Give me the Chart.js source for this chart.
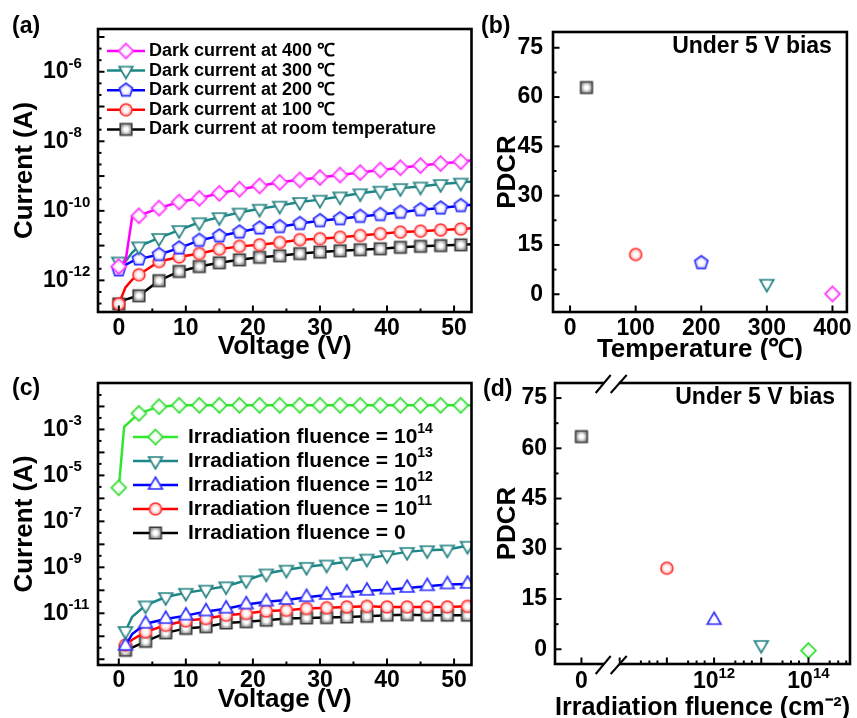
<!DOCTYPE html>
<html>
<head>
<meta charset="utf-8">
<script src="https://cdn.jsdelivr.net/npm/chart.js@4.4.0/dist/chart.umd.min.js"></script>
<style>
  body { margin: 0; background: #fff; }
  #fig { position: relative; width: 857px; height: 718px; font-family: "Liberation Sans", Arial, sans-serif; font-weight: bold; }
  .panel { position: absolute; }
  .tag { position: absolute; font-size: 23px; line-height: 23px; }
</style>
</head>
<body>
<div id="fig">
  <div class="panel" style="left:0;top:0"><canvas id="chartA" width="480" height="360"></canvas></div>
  <div class="panel" style="left:480px;top:0"><canvas id="chartB" width="377" height="360"></canvas></div>
  <div class="panel" style="left:0;top:360px"><canvas id="chartC" width="480" height="358"></canvas></div>
  <div class="panel" style="left:480px;top:360px"><canvas id="chartD" width="377" height="358"></canvas></div>
  <div class="tag" style="left:12px;top:14px">(a)</div>
  <div class="tag" style="left:481px;top:14px">(b)</div>
  <div class="tag" style="left:12px;top:376px">(c)</div>
  <div class="tag" style="left:483px;top:377px">(d)</div>
</div>
<script>
// (a) dark current vs voltage at several temperatures
const voltageA = [0, 1, 2, 3, 6, 9, 12, 15, 18, 21, 24, 27, 30, 33, 36, 39, 42, 45, 48, 51, 53]
const markerVoltsA = [0, 3, 6, 9, 12, 15, 18, 21, 24, 27, 30, 33, 36, 39, 42, 45, 48, 51]
const dark400 = [2.5e-12, 3.5e-12, 6.8e-11, 7.2e-11, 1.2e-10, 1.8e-10, 2.3e-10, 3.2e-10, 4.2e-10, 5.2e-10, 6.6e-10, 7.8e-10, 9.1e-10, 1.07e-9, 1.26e-9, 1.5e-9, 1.74e-9, 2.0e-9, 2.3e-9, 2.6e-9, 2.9e-9]
const dark300 = [3.5e-12, 3.5e-12, 6.3e-12, 9.5e-12, 1.66e-11, 2.8e-11, 4.7e-11, 6.6e-11, 8.9e-11, 1.15e-10, 1.41e-10, 1.8e-10, 2.1e-10, 2.6e-10, 3.2e-10, 3.8e-10, 4.5e-10, 5.0e-10, 5.9e-10, 6.5e-10, 7.1e-10]
const dark200 = [2.0e-12, 2.8e-12, 3.5e-12, 4.1e-12, 5.5e-12, 8.5e-12, 1.41e-11, 1.9e-11, 2.45e-11, 3.2e-11, 3.5e-11, 4.3e-11, 5.2e-11, 5.9e-11, 6.9e-11, 7.8e-11, 9.1e-11, 1.07e-10, 1.2e-10, 1.41e-10, 1.5e-10]
const dark100 = [2.1e-13, 6.3e-13, 1.05e-12, 1.45e-12, 3.5e-12, 4.7e-12, 5.9e-12, 7.9e-12, 9.5e-12, 1.05e-11, 1.23e-11, 1.48e-11, 1.58e-11, 1.74e-11, 1.95e-11, 2.2e-11, 2.45e-11, 2.6e-11, 2.8e-11, 3.0e-11, 3.2e-11]
const darkRT = [2.1e-13, 2.8e-13, 3.2e-13, 3.6e-13, 9.8e-13, 1.8e-12, 2.5e-12, 3.2e-12, 3.9e-12, 4.6e-12, 5.1e-12, 5.9e-12, 6.5e-12, 7.1e-12, 7.6e-12, 8.1e-12, 8.9e-12, 9.5e-12, 1.0e-11, 1.05e-11, 1.1e-11]

// (b) PDCR vs temperature
const temperatures = [25, 100, 200, 300, 400]
const pdcrTemp = [62.9, 12.1, 9.6, 3.2, 0.1]

// (c) current vs voltage after irradiation
const voltageC14 = [0, 0.8, 3, 6, 9, 12, 15, 18, 21, 24, 27, 30, 33, 36, 39, 42, 45, 48, 51, 53]
const markerVoltsC14 = [0, 3, 6, 9, 12, 15, 18, 21, 24, 27, 30, 33, 36, 39, 42, 45, 48, 51]
const irr14 = [2.9e-6, 1.3e-3, 5.0e-3, 9.8e-3, 1.12e-2, 1.12e-2, 1.12e-2, 1.12e-2, 1.12e-2, 1.12e-2, 1.12e-2, 1.12e-2, 1.12e-2, 1.12e-2, 1.12e-2, 1.12e-2, 1.12e-2, 1.12e-2, 1.12e-2, 1.12e-2]
const voltageC = [1, 2, 4, 7, 10, 13, 16, 19, 22, 25, 28, 31, 34, 37, 40, 43, 46, 49, 52]
const markerVoltsC = [1, 4, 7, 10, 13, 16, 19, 22, 25, 28, 31, 34, 37, 40, 43, 46, 49, 52]
const irr13 = [1.7e-12, 7.1e-12, 2.2e-11, 5.1e-11, 7.8e-11, 1.07e-10, 1.5e-10, 2.75e-10, 5.4e-10, 7.9e-10, 1.05e-9, 1.32e-9, 1.74e-9, 2.4e-9, 3.4e-9, 4.7e-9, 5.6e-9, 6.0e-9, 8.7e-9]
const irr12 = [3.8e-13, 1.26e-12, 3.5e-12, 5.6e-12, 7.9e-12, 1.2e-11, 1.58e-11, 2.4e-11, 3.2e-11, 3.8e-11, 5.0e-11, 6.3e-11, 7.9e-11, 9.5e-11, 1.07e-10, 1.26e-10, 1.5e-10, 1.8e-10, 1.9e-10]
const irr11 = [4.1e-13, 7.1e-13, 1.55e-12, 3.0e-12, 4.7e-12, 5.9e-12, 8.3e-12, 9.8e-12, 1.26e-11, 1.35e-11, 1.62e-11, 1.74e-11, 1.9e-11, 2.0e-11, 1.9e-11, 1.9e-11, 1.9e-11, 1.9e-11, 2.0e-11]
const irr0 = [2.45e-13, 3.2e-13, 6.0e-13, 1.41e-12, 2.2e-12, 2.6e-12, 3.8e-12, 4.3e-12, 5.0e-12, 5.9e-12, 6.3e-12, 6.5e-12, 6.9e-12, 7.4e-12, 8.3e-12, 8.7e-12, 8.3e-12, 8.3e-12, 8.3e-12]

// (d) PDCR vs irradiation fluence (broken axis: 0, then log decades)
const fluences = [0, 1e11, 1e12, 1e13, 1e14]
const pdcrFluence = [63.5, 24.2, 8.7, 1.3, -0.4]

const voltTicks = [0, 10, 20, 30, 40, 50]
const tempTicks = [0, 100, 200, 300, 400]
const pdcrTicks = [0, 15, 30, 45, 60, 75]
const ZERO_POS = 9.19
const BREAK_POS = 9.81

const FONT = '"Liberation Sans", Arial, sans-serif'
Chart.defaults.font.family = FONT
Chart.defaults.font.weight = 'bold'
Chart.defaults.color = '#000'
Chart.defaults.animation = false

const SUP = '⁰¹²³⁴⁵⁶⁷⁸⁹⁻'
const NORM = '0123456789-'
const sup = (s) => String(s).split('').map(c => SUP[NORM.indexOf(c)]).join('')
const decade = (v) => Math.round(Math.log10(v))

// split text into normal / superscript runs
const richRuns = (text) => {
    const runs = []
    for (const ch of text) {
        const i = SUP.indexOf(ch)
        const isSup = i >= 0
        const c = isSup ? NORM[i] : ch
        if (runs.length && runs[runs.length - 1].sup === isSup) runs[runs.length - 1].t += c
        else runs.push({ t: c, sup: isSup })
    }
    return runs
}

const runFont = (r, size) => "bold " + (r.sup ? Math.round(size * 0.66) : size) + "px " + FONT

const measureRich = (ctx, text, size) => {
    let w = 0
    richRuns(text).forEach(r => { ctx.font = runFont(r, size); w += ctx.measureText(r.t).width })
    return w
}

const drawRich = (ctx, text, x, y, size, align) => {
    if (align === "center") x -= measureRich(ctx, text, size) / 2
    ctx.textAlign = "left"
    ctx.textBaseline = "middle"
    richRuns(text).forEach(r => {
        ctx.font = runFont(r, size)
        ctx.fillText(r.t, x, r.sup ? y - size * 0.36 : y)
        x += ctx.measureText(r.t).width
    })
}

const marker = (shape, stroke, edge, R) => {
    const c = document.createElement("canvas")
    c.width = c.height = Math.ceil(2 * R + 4)
    const g = c.getContext("2d")
    const m = c.width / 2
    g.beginPath()
    if (shape === "diamond") {
        g.moveTo(m, m - R); g.lineTo(m + R, m); g.lineTo(m, m + R); g.lineTo(m - R, m)
    } else if (shape === "square") {
        g.rect(m - R, m - R, 2 * R, 2 * R)
    } else if (shape === "circle") {
        g.arc(m, m, R, 0, Math.PI * 2)
    } else {
        const n = shape === "pentagon" ? 5 : 3
        const start = shape === "triDown" ? Math.PI / 2 : -Math.PI / 2
        for (let k = 0; k < n; k++) {
            const a = start + k * 2 * Math.PI / n
            if (k === 0) g.moveTo(m + R * Math.cos(a), m + R * Math.sin(a))
            else g.lineTo(m + R * Math.cos(a), m + R * Math.sin(a))
        }
    }
    g.closePath()
    const grad = g.createRadialGradient(m, m, 0, m, m, R)
    grad.addColorStop(0, "#ffffff")
    grad.addColorStop(0.35, "#ffffff")
    grad.addColorStop(1, edge)
    g.fillStyle = grad
    g.fill()
    g.strokeStyle = stroke
    g.lineWidth = 1.6
    g.stroke()
    return c
}

const mk = {
    magenta: marker("diamond", "#ff33ff", "#ffa8ff", 7.5),
    teal: marker("triDown", "#2a8585", "#8ab8b8", 8),
    bluePent: marker("pentagon", "#3333ff", "#a0a0ff", 7),
    blueTri: marker("triUp", "#3333ff", "#a8a8ff", 8),
    red: marker("circle", "#ff3333", "#ffa0a0", 6),
    gray: marker("square", "#3c3c3c", "#8c8c8c", 5.8),
    green: marker("diamond", "#33dd33", "#b0f5b0", 7.5)
}

// frame with inward ticks, axis break, corner note, and superscript tick labels
const frameTicks = {
    id: "frameTicks",
    afterDraw(chart, args, o) {
        const { ctx, chartArea: a } = chart
        const xs = chart.scales.x
        const ys = chart.scales.y
        ctx.save()
        ctx.strokeStyle = "#000"
        const seg = (x1, y1, x2, y2) => { ctx.beginPath(); ctx.moveTo(x1, y1); ctx.lineTo(x2, y2); ctx.stroke() }
        const xTick = (v, len) => {
            const p = xs.getPixelForValue(v)
            if (p > a.left + 2 && p < a.right - 2) seg(p, a.bottom, p, a.bottom - len)
        }
        const yTick = (v, len) => {
            const p = ys.getPixelForValue(v)
            if (p > a.top + 2 && p < a.bottom - 2) seg(a.left, p, a.left + len, p)
        }
        ctx.lineWidth = 2
        xs.ticks.forEach(t => xTick(t.value, 6.5))
        ;(o.xMinor || []).forEach(v => xTick(v, 3.5))
        ys.ticks.forEach(t => yTick(t.value, 6.5))
        ;(o.yMinor || []).forEach(v => yTick(v, 3.5))
        ctx.lineWidth = 2.6
        ctx.strokeRect(a.left, a.top, a.right - a.left, a.bottom - a.top)
        if (o.breakAt !== undefined) {
            const bx = xs.getPixelForValue(o.breakAt)
            ;[a.top, a.bottom].forEach(by => {
                ctx.fillStyle = "#fff"
                ctx.fillRect(bx - 7, by - 3, 15, 6)
                ctx.lineWidth = 2
                seg(bx - 15, by + 10, bx, by - 8)
                seg(bx, by + 10, bx + 16, by - 8)
            })
        }
        ctx.fillStyle = "#000"
        if (o.yLabel) {
            ys.ticks.forEach(t => {
                const s = o.yLabel(t.value)
                if (s) drawRich(ctx, s, o.yLabelX, ys.getPixelForValue(t.value), o.labelSize, "left")
            })
        }
        if (o.xLabel) {
            xs.ticks.forEach(t => {
                const s = o.xLabel(t.value)
                if (s) drawRich(ctx, s, xs.getPixelForValue(t.value), a.bottom + o.xLabelDy, o.labelSize, "center")
            })
        }
        if (o.note) {
            ctx.font = "bold 23px " + FONT
            ctx.textAlign = "right"
            ctx.textBaseline = "middle"
            ctx.fillText(o.note, a.right - 15, a.top + 15)
        }
        ctx.restore()
    }
}

const lineLegend = {
    id: "lineLegend",
    afterDatasetsDraw(chart, args, o) {
        if (o.x === undefined) return
        const ctx = chart.ctx
        ctx.save()
        chart.data.datasets.forEach((ds, i) => {
            const y = o.y + i * o.gap
            ctx.strokeStyle = ds.borderColor
            ctx.lineWidth = 2.5
            ctx.beginPath(); ctx.moveTo(o.x, y); ctx.lineTo(o.x + o.len, y); ctx.stroke()
            const img = ds.pointStyle
            ctx.drawImage(img, o.x + o.len / 2 - img.width / 2, y - img.height / 2)
            ctx.fillStyle = "#000"
            drawRich(ctx, ds.label, o.x + o.len + o.pad, y, o.size, "left")
        })
        ctx.restore()
    }
}

Chart.register(frameTicks, lineLegend)

const series = (label, xs, ys, markerXs, color, img) => ({
    label: label,
    data: xs.map((x, i) => ({ x: x, y: ys[i] })),
    borderColor: color,
    borderWidth: 2.5,
    pointStyle: img,
    pointRadius: (ctx) => (ctx.raw && markerXs.includes(ctx.raw.x) ? 6 : 0),
    tension: 0,
    fill: false
})

const decadeMinor = (lo, hi, fracs) => {
    const out = []
    for (let n = lo; n <= hi; n++) fracs.forEach(f => out.push(Math.pow(10, n + f)))
    return out
}

const basePlugins = (extra) => Object.assign({ legend: { display: false }, tooltip: { enabled: false } }, extra)

const voltageAxis = (h, tickPad, titleBottom) => ({
    type: "linear", min: -3.1, max: 52.6,
    afterBuildTicks: (s) => { s.ticks = voltTicks.map(v => ({ value: v })) },
    afterFit: (s) => { s.height = h },
    grid: { display: false, drawTicks: false }, border: { display: false },
    ticks: { font: { size: 23, lineHeight: 1 }, padding: tickPad, maxRotation: 0, autoSkip: false },
    title: { display: true, text: "Voltage (V)", font: { size: 26, lineHeight: 1 }, padding: { top: 0, bottom: titleBottom } }
})

// log current axis; its labels (10 with superscript) are drawn by frameTicks
const currentAxis = (minExp, maxExp, ticks) => ({
    type: "logarithmic", min: Math.pow(10, minExp), max: Math.pow(10, maxExp),
    afterBuildTicks: (s) => { s.ticks = ticks.map(e => ({ value: Math.pow(10, e) })) },
    afterFit: (s) => { s.width = 55 },
    grid: { display: false, drawTicks: false }, border: { display: false },
    ticks: { callback: () => "", autoSkip: false },
    title: { display: true, text: "Current (A)", font: { size: 26, lineHeight: 1 }, padding: { top: -31, bottom: 0 } }
})

const pdcrAxis = (min, max, w, tickPad) => ({
    type: "linear", min: min, max: max,
    afterBuildTicks: (s) => { s.ticks = pdcrTicks.map(v => ({ value: v })) },
    afterFit: (s) => { s.width = w },
    grid: { display: false, drawTicks: false }, border: { display: false },
    ticks: { font: { size: 23, lineHeight: 1 }, padding: tickPad, autoSkip: false },
    title: { display: true, text: "PDCR", font: { size: 26, lineHeight: 1 }, padding: { top: 15, bottom: 0 } }
})

const pdcrMinor = [7.5, 22.5, 37.5, 52.5, 67.5]

// (a)
new Chart(document.getElementById("chartA"), {
    type: "line",
    data: {
        datasets: [
            series("Dark current at 400 ℃", voltageA, dark400, markerVoltsA, "#ff00ff", mk.magenta),
            series("Dark current at 300 ℃", voltageA, dark300, markerVoltsA, "#1c8787", mk.teal),
            series("Dark current at 200 ℃", voltageA, dark200, markerVoltsA, "#0000ff", mk.bluePent),
            series("Dark current at 100 ℃", voltageA, dark100, markerVoltsA, "#ff0000", mk.red),
            series("Dark current at room temperature", voltageA, darkRT, markerVoltsA, "#000000", mk.gray)
        ]
    },
    options: {
        responsive: false,
        layout: { padding: { left: 43, top: 29, right: 2, bottom: 0 } },
        scales: {
            x: voltageAxis(48, 5, 0),
            y: currentAxis(-12.91, -4.77, [-12, -11, -10, -9, -8, -7, -6, -5])
        },
        plugins: basePlugins({
            frameTicks: {
                xMinor: [5, 15, 25, 35, 45], yMinor: decadeMinor(-13, -5, [1 / 3, 2 / 3]),
                yLabel: (v) => (decade(v) % 2 === 0 ? "10" + sup(decade(v)) : ""), yLabelX: 43, labelSize: 23
            },
            lineLegend: { x: 107, y: 51, gap: 19.6, len: 38, pad: 4, size: 18 }
        })
    }
})

// (b)
new Chart(document.getElementById("chartB"), {
    type: "scatter",
    data: {
        datasets: [{
            data: temperatures.map((t, i) => ({ x: t, y: pdcrTemp[i] })),
            pointStyle: [mk.gray, mk.red, mk.bluePent, mk.teal, mk.magenta],
            pointRadius: 6
        }]
    },
    options: {
        responsive: false,
        layout: { padding: { left: 0, top: 32, right: 4, bottom: 0 } },
        scales: {
            x: {
                type: "linear", min: -26, max: 422,
                afterBuildTicks: (s) => { s.ticks = tempTicks.map(v => ({ value: v })) },
                afterFit: (s) => { s.height = 48 },
                grid: { display: false, drawTicks: false }, border: { display: false },
                ticks: { font: { size: 23, lineHeight: 1 }, padding: 5, maxRotation: 0, autoSkip: false },
                title: { display: true, text: "Temperature (℃)", font: { size: 26, lineHeight: 1 }, padding: { top: 0, bottom: -3 } }
            },
            y: pdcrAxis(-5.4, 79.8, 73, 10)
        },
        plugins: basePlugins({
            frameTicks: { yMinor: pdcrMinor, note: "Under 5 V bias" }
        })
    }
})

// (c)
new Chart(document.getElementById("chartC"), {
    type: "line",
    data: {
        datasets: [
            series("Irradiation fluence = 10¹⁴", voltageC14, irr14, markerVoltsC14, "#2ee82e", mk.green),
            series("Irradiation fluence = 10¹³", voltageC, irr13, markerVoltsC, "#1c8787", mk.teal),
            series("Irradiation fluence = 10¹²", voltageC, irr12, markerVoltsC, "#0000ff", mk.blueTri),
            series("Irradiation fluence = 10¹¹", voltageC, irr11, markerVoltsC, "#ff0000", mk.red),
            series("Irradiation fluence = 0", voltageC, irr0, markerVoltsC, "#000000", mk.gray)
        ]
    },
    options: {
        responsive: false,
        layout: { padding: { left: 43, top: 23, right: 2, bottom: 0 } },
        scales: {
            x: voltageAxis(53, 4, 5),
            y: currentAxis(-13.25, -0.98, [-13, -12, -11, -10, -9, -8, -7, -6, -5, -4, -3, -2, -1])
        },
        plugins: basePlugins({
            frameTicks: {
                xMinor: [5, 15, 25, 35, 45], yMinor: decadeMinor(-14, -2, [0.5]),
                yLabel: (v) => {
                    const e = decade(v)
                    return e <= -3 && e >= -11 && e % 2 !== 0 ? "10" + sup(e) : ""
                },
                yLabelX: 43, labelSize: 23
            },
            lineLegend: { x: 133, y: 77, gap: 24, len: 45, pad: 10, size: 21 }
        })
    }
})

// (d)
const fluenceMinor = []
;[9, 10, 11, 12, 13, 14].forEach(n => [0.45, 0.63, 0.8].forEach(f => { if (n + f > BREAK_POS + 0.2) fluenceMinor.push(n + f) }))

new Chart(document.getElementById("chartD"), {
    type: "scatter",
    data: {
        datasets: [{
            data: fluences.map((f, i) => ({ x: f === 0 ? ZERO_POS : Math.log10(f), y: pdcrFluence[i] })),
            pointStyle: [mk.gray, mk.red, mk.blueTri, mk.teal, mk.green],
            pointRadius: 6
        }]
    },
    options: {
        responsive: false,
        layout: { padding: { left: 0, top: 23, right: 5, bottom: 0 } },
        scales: {
            x: {
                type: "linear", min: 8.63, max: 14.88,
                afterBuildTicks: (s) => { s.ticks = [ZERO_POS, 10, 11, 12, 13, 14].map(v => ({ value: v })) },
                afterFit: (s) => { s.height = 54 },
                grid: { display: false, drawTicks: false }, border: { display: false },
                ticks: { callback: () => "", autoSkip: false },
                title: { display: true, text: "Irradiation fluence (cm⁻²)", font: { size: 26, lineHeight: 1 }, padding: { top: 0, bottom: -3 } }
            },
            y: pdcrAxis(-4.4, 79.5, 75, 8)
        },
        plugins: basePlugins({
            frameTicks: {
                xMinor: fluenceMinor, yMinor: pdcrMinor, breakAt: BREAK_POS, note: "Under 5 V bias",
                xLabel: (v) => (v === ZERO_POS ? "0" : (v === 12 || v === 14 ? "10" + sup(v) : "")),
                xLabelDy: 18, labelSize: 23
            }
        })
    }
})
</script>
</body>
</html>
